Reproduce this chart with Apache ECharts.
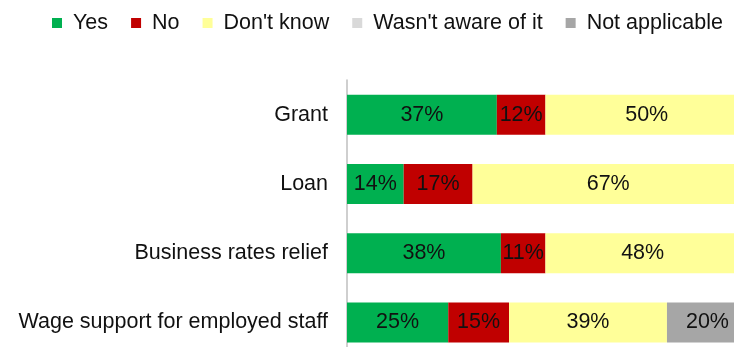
<!DOCTYPE html>
<html>
<head>
<meta charset="utf-8">
<script src="https://cdn.jsdelivr.net/npm/echarts@6/dist/echarts.min.js"></script>
<style>
  html, body { margin: 0; padding: 0; background: #fff; }
  #main { width: 734px; height: 347px; }
</style>
</head>
<body>
<div id="main"></div>
<script>
// 各类支持措施的回答分布（%）
var categories = ['Grant', 'Loan', 'Business rates relief', 'Wage support for employed staff'];
var yesVals = [37, 14, 38, 25];
var noVals = [12, 17, 11, 15];
var dontKnowVals = [50, 67, 48, 39];
var notAwareVals = [1, 2, 3, 0];
var notApplicableVals = [0, 0, 0, 20];

var seriesNames = ['Yes', 'No', "Don't know", "Wasn't aware of it", 'Not applicable'];
var seriesData = [yesVals, noVals, dontKnowVals, notAwareVals, notApplicableVals];
var colors = ['#00B050', '#C00000', '#FFFF99', '#D9D9D9', '#A6A6A6'];

var font = 'Liberation Sans, Arial, sans-serif';
var fs = 21.5;

var myChart = echarts.init(document.getElementById('main'));

var series = seriesNames.map(function (name, i) {
  return {
    name: name,
    type: 'bar',
    stack: 'total',
    barWidth: 40,
    data: seriesData[i],
    itemStyle: { color: colors[i] },
    label: {
      show: true,
      color: '#111',
      fontSize: fs,
      fontFamily: font,
      formatter: function (p) {
        return p.value >= 5 ? p.value + '%' : '';
      }
    },
    emphasis: { disabled: true }
  };
});

var option = {
  animation: false,
  color: colors,
  legend: {
    top: 12,
    left: 52,
    width: 760,
    padding: 0,
    icon: 'rect',
    itemWidth: 10,
    itemHeight: 10,
    itemGap: 23,
    textStyle: {
      fontSize: fs,
      fontFamily: font,
      color: '#111',
      padding: [0, 0, 0, 6]
    },
    data: seriesNames
  },
  grid: {
    left: 347,
    top: 80,
    right: -18,
    bottom: -10,
    outerBoundsMode: 'none'
  },
  xAxis: {
    type: 'value',
    min: 0,
    max: 100,
    show: false
  },
  yAxis: {
    type: 'category',
    inverse: true,
    data: categories,
    axisLine: { show: true, lineStyle: { color: '#BFBFBF', width: 1.5 } },
    axisTick: { show: false },
    axisLabel: {
      margin: 19,
      fontSize: fs,
      fontFamily: font,
      color: '#111'
    }
  },
  series: series
};
myChart.setOption(option);
</script>
</body>
</html>
